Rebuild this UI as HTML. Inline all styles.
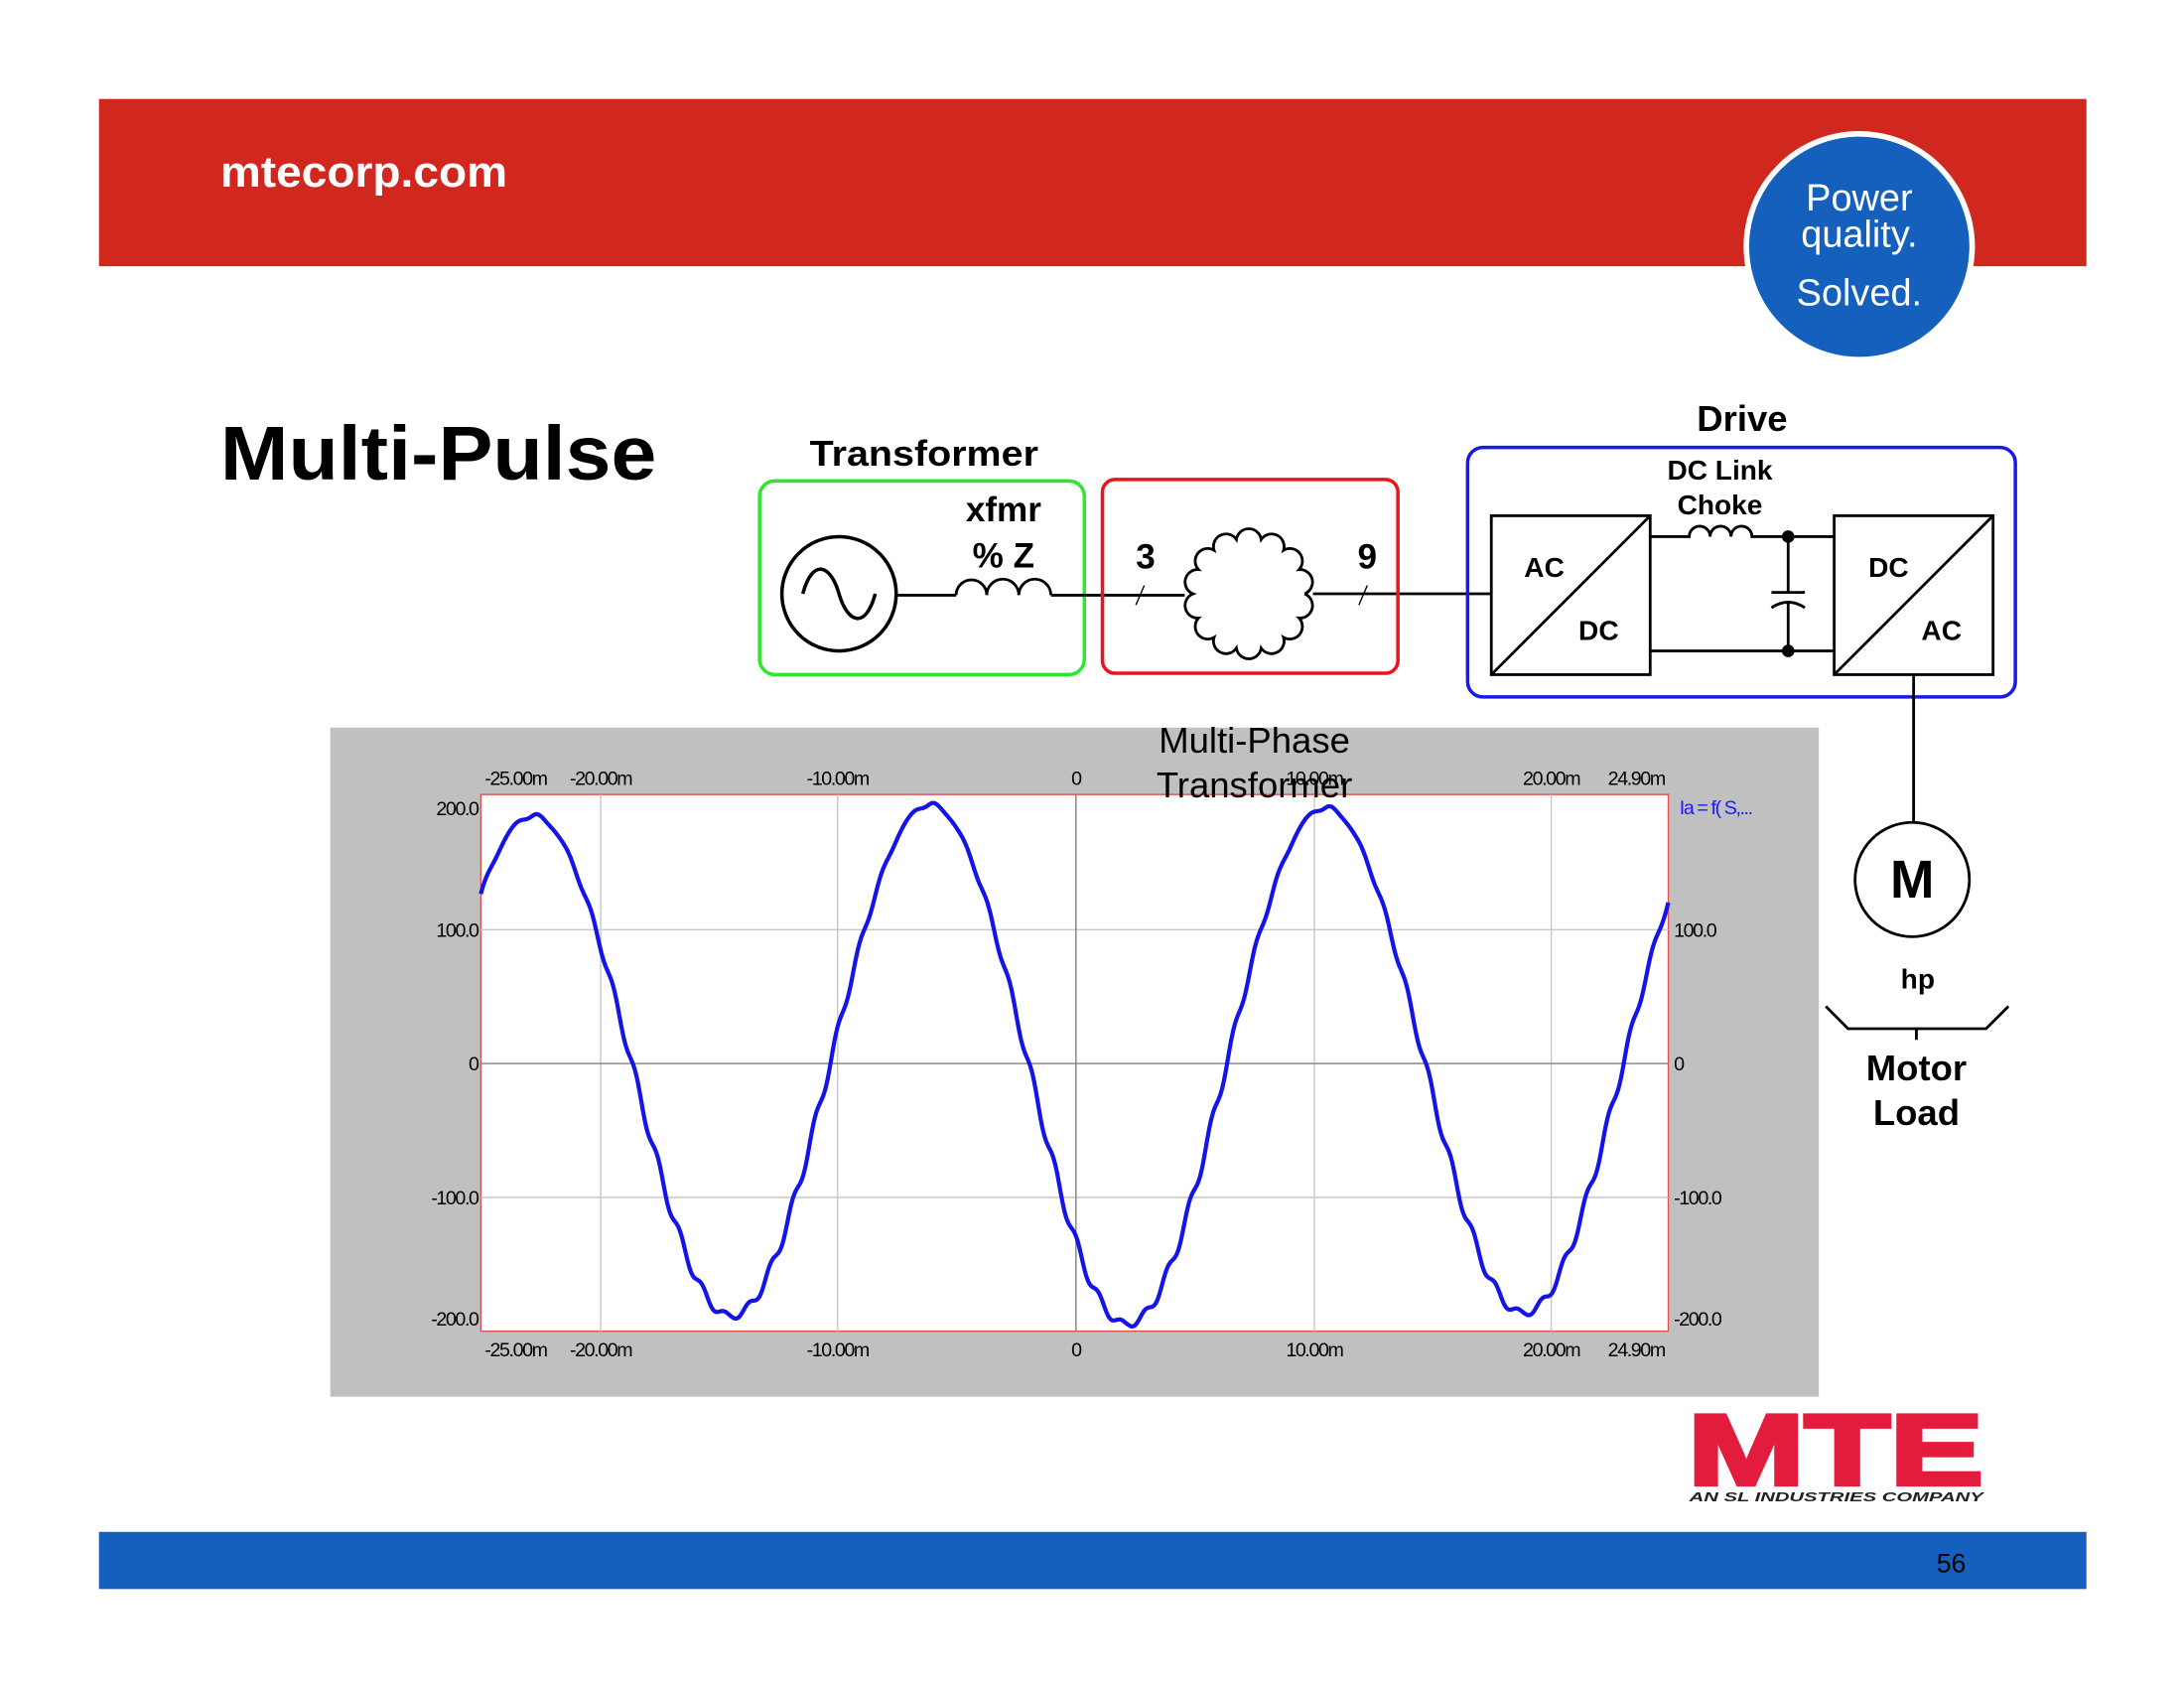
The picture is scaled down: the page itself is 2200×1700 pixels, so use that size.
<!DOCTYPE html>
<html><head><meta charset="utf-8"><style>
html,body{margin:0;padding:0;background:#fff;}
svg{display:block;}
text{font-family:"Liberation Sans","DejaVu Sans",sans-serif;}
</style></head><body>
<svg width="2200" height="1700" viewBox="0 0 1567 1211" preserveAspectRatio="none" xmlns="http://www.w3.org/2000/svg">
<rect x="0" y="0" width="1567" height="1211" fill="#fff"/>
<rect x="71" y="71" width="1426" height="120" fill="#d0271f"/>
<text x="158" y="134" font-size="31" font-weight="bold" fill="#fff" textLength="206" lengthAdjust="spacingAndGlyphs">mtecorp.com</text>
<circle cx="1334" cy="177" r="81" fill="#1560bd" stroke="#fff" stroke-width="4"/>
<text x="1334" y="151" font-size="27" fill="#fff" text-anchor="middle">Power</text>
<text x="1334" y="177" font-size="27" fill="#fff" text-anchor="middle">quality.</text>
<text x="1334" y="219" font-size="27" fill="#fff" text-anchor="middle">Solved.</text>
<rect x="71" y="1099" width="1426" height="41" fill="#1560bd"/>
<text x="1400" y="1128" font-size="19" fill="#000" text-anchor="middle">56</text>
<text x="1211" y="1065" font-size="72" font-weight="900" fill="#e31b3c" stroke="#e31b3c" stroke-width="3" textLength="212" lengthAdjust="spacingAndGlyphs">MTE</text>
<text x="1212" y="1077" font-size="9.5" font-weight="bold" font-style="italic" fill="#222" textLength="211" lengthAdjust="spacingAndGlyphs">AN SL INDUSTRIES COMPANY</text>

<text x="158" y="344" font-size="55" font-weight="bold" fill="#000" textLength="313" lengthAdjust="spacingAndGlyphs">Multi-Pulse</text>

<text x="663" y="334" font-size="26" font-weight="bold" text-anchor="middle" textLength="164" lengthAdjust="spacingAndGlyphs">Transformer</text>
<rect x="545" y="345" width="233" height="139" rx="11" fill="none" stroke="#2ee62e" stroke-width="2.5"/>
<circle cx="602" cy="426" r="41" fill="none" stroke="#000" stroke-width="2.5"/>
<path d="M576 426 C583 400 596 405 602 426 C608 447 621 452 628 426" fill="none" stroke="#000" stroke-width="2.5"/>
<g fill="none" stroke="#000" stroke-width="2">
<path d="M643 427 H686"/>
<path d="M686 427 A11 11 0 0 1 708 427 A11 11 0 0 1 731 427 A11 11 0 0 1 754 427"/>
<path d="M754 427 H850"/>
<path d="M942 426 H1070"/>
</g>
<text x="720" y="374" font-size="25" font-weight="bold" text-anchor="middle">xfmr</text>
<text x="720" y="407" font-size="25" font-weight="bold" text-anchor="middle">% Z</text>
<rect x="791" y="344" width="212" height="139" rx="9" fill="none" stroke="#e8141e" stroke-width="2.5"/>
<text x="822" y="408" font-size="25" font-weight="bold" text-anchor="middle">3</text>
<text x="981" y="408" font-size="25" font-weight="bold" text-anchor="middle">9</text>
<path d="M815 434 L821 420 M975 434 L981 420" stroke="#000" stroke-width="1"/>
<g id="cloud"></g>
<text x="1250" y="309" font-size="26" font-weight="bold" text-anchor="middle">Drive</text>
<rect x="1053" y="321" width="393" height="179" rx="11" fill="none" stroke="#1a1ae6" stroke-width="2.5"/>
<g fill="none" stroke="#000" stroke-width="2">
<rect x="1070" y="370" width="114" height="114"/>
<path d="M1070 484 L1184 370"/>
<rect x="1316" y="370" width="114" height="114"/>
<path d="M1316 484 L1430 370"/>
<path d="M1184 385 H1212 A7.5 7.5 0 0 1 1227 385 A7.5 7.5 0 0 1 1242 385 A7.5 7.5 0 0 1 1257 385 H1316"/>
<path d="M1184 467 H1316"/>
<path d="M1283 385 V425 M1271 425 H1295 M1271 436 Q1283 428 1295 436 M1283 431 V467"/>
<path d="M1373 484 V590"/>
<circle cx="1372" cy="631" r="41"/>
<path d="M1310 722 L1326 738 H1425 L1441 722 M1375 738 V746"/>
</g>
<circle cx="1283" cy="385" r="4.5"/>
<circle cx="1283" cy="467" r="4.5"/>
<text x="1108" y="414" font-size="20" font-weight="bold" text-anchor="middle">AC</text>
<text x="1147" y="459" font-size="20" font-weight="bold" text-anchor="middle">DC</text>
<text x="1355" y="414" font-size="20" font-weight="bold" text-anchor="middle">DC</text>
<text x="1393" y="459" font-size="20" font-weight="bold" text-anchor="middle">AC</text>
<text x="1234" y="344" font-size="20" font-weight="bold" text-anchor="middle">DC Link</text>
<text x="1234" y="369" font-size="20" font-weight="bold" text-anchor="middle">Choke</text>
<text x="1372" y="644" font-size="38" font-weight="bold" text-anchor="middle">M</text>
<text x="1376" y="709" font-size="20" font-weight="bold" text-anchor="middle">hp</text>
<text x="1375" y="775" font-size="26" font-weight="bold" text-anchor="middle">Motor</text>
<text x="1375" y="807" font-size="26" font-weight="bold" text-anchor="middle">Load</text>

<rect x="237" y="522" width="1068" height="480" fill="#c0c0c0"/>
<rect x="345" y="570" width="852" height="385" fill="#fff" stroke="#e05050" stroke-width="1"/>
<g stroke="#c8c8c8" stroke-width="1">
<path d="M431 570 V955 M601 570 V955 M943 570 V955 M1113 570 V955 M345 667 H1197 M345 859 H1197"/>
</g>
<path d="M772 570 V955 M345 763 H1197" stroke="#808080" stroke-width="1"/>
<g font-size="14" fill="#000" text-anchor="middle" letter-spacing="-1">
<text x="370" y="563">-25.00m</text><text x="431" y="563">-20.00m</text><text x="601" y="563">-10.00m</text><text x="772" y="563">0</text><text x="943" y="563">10.00m</text><text x="1113" y="563">20.00m</text><text x="1174" y="563">24.90m</text>
<text x="370" y="973">-25.00m</text><text x="431" y="973">-20.00m</text><text x="601" y="973">-10.00m</text><text x="772" y="973">0</text><text x="943" y="973">10.00m</text><text x="1113" y="973">20.00m</text><text x="1174" y="973">24.90m</text>
</g>
<g font-size="14" fill="#000" text-anchor="end" letter-spacing="-1">
<text x="343" y="585">200.0</text><text x="343" y="672">100.0</text><text x="343" y="768">0</text><text x="343" y="864">-100.0</text><text x="343" y="951">-200.0</text>
</g>
<g font-size="14" fill="#000" letter-spacing="-1">
<text x="1201" y="672">100.0</text><text x="1201" y="768">0</text><text x="1201" y="864">-100.0</text><text x="1201" y="951">-200.0</text>
<text x="1205" y="584" fill="#1a1aff">Ia = f( S,...</text>
</g>
<path id="wave" d="" fill="none" stroke="#1414e6" stroke-width="3"/>
<text x="900" y="540" font-size="26" text-anchor="middle">Multi-Phase</text>
<text x="900" y="572" font-size="26" text-anchor="middle">Transformer</text>
</svg>
<script>
(function(){
 var cx=896,cy=426,R=40,n=14,d="";
 for(var i=0;i<n;i++){
  var a1=2*Math.PI*i/n,a2=2*Math.PI*(i+1)/n;
  var x1=cx+R*Math.cos(a1),y1=cy+R*Math.sin(a1),x2=cx+R*Math.cos(a2),y2=cy+R*Math.sin(a2);
  if(i==0)d+="M"+x1+" "+y1;
  d+=" A9 9 0 0 1 "+x2+" "+y2;
 }
 var c=document.createElementNS("http://www.w3.org/2000/svg","path");
 c.setAttribute("d",d);c.setAttribute("fill","none");c.setAttribute("stroke","#000");c.setAttribute("stroke-width","2");
 document.getElementById("cloud").appendChild(c);
 var p="";
 for(var x=345;x<=1197;x+=0.5){
  var t=(x-772)/17.07;
  var ph=2*Math.PI*(t-10.5)/16.67;
  var A=190+5*Math.cos(2*Math.PI*t/50);
  var v=A*Math.cos(ph)-(A*0.09)*Math.sin(18*ph)*Math.abs(Math.sin(ph))*0.25+2*Math.sin(17*ph);
  var y=763-v*0.96;
  p+=(p?" L":"M")+x.toFixed(1)+" "+y.toFixed(1);
 }
 document.getElementById("wave").setAttribute("d",p);
})();
</script>
</body></html>
